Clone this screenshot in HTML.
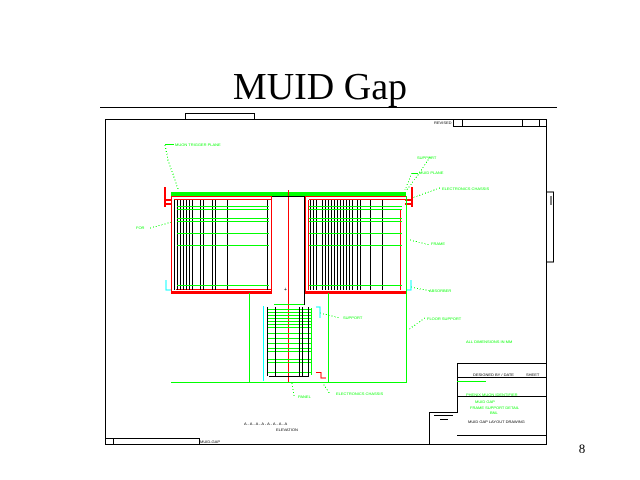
<!DOCTYPE html>
<html><head><meta charset="utf-8"><style>
html,body{margin:0;padding:0;background:#fff;width:640px;height:480px;overflow:hidden}
svg{display:block}
</style></head><body>
<svg width="640" height="480" viewBox="0 0 640 480" xmlns="http://www.w3.org/2000/svg" shape-rendering="crispEdges">
<text x="320" y="99" text-anchor="middle" font-family="Liberation Serif, serif" font-size="38">MUID Gap</text>
<line x1="100" y1="107.5" x2="557" y2="107.5" stroke="#000" stroke-width="1"/>
<text x="582" y="453" text-anchor="middle" font-family="Liberation Serif, serif" font-size="13">8</text>
<g fill="none" stroke="#000" stroke-width="1">
<rect x="105.5" y="119.5" width="441" height="325"/>
<rect x="185.5" y="113.5" width="69" height="6"/>
<polyline points="546.5,192 553.5,192 553.5,262 546.5,262"/>
<line x1="551" y1="196" x2="551" y2="205"/>
<rect x="105.5" y="438.5" width="94" height="6"/>
<line x1="113.5" y1="438" x2="113.5" y2="444"/>
<rect x="453.5" y="119.5" width="93" height="7"/>
<line x1="462.5" y1="119" x2="462.5" y2="127"/>
<line x1="522.5" y1="119" x2="522.5" y2="127"/>
<line x1="539.5" y1="119" x2="539.5" y2="127"/>
<polyline points="546,363.5 457.5,363.5 457.5,412.5 429.5,412.5 429.5,444"/>
<line x1="457" y1="377.5" x2="546" y2="377.5"/>
<line x1="457" y1="396.5" x2="546" y2="396.5"/>
<line x1="457" y1="435.5" x2="546" y2="435.5"/>
<line x1="434" y1="415.5" x2="453" y2="415.5"/>
<line x1="440" y1="419.5" x2="448" y2="419.5"/>
</g>
<g font-family="Liberation Sans, sans-serif" font-size="4" fill="#000">
<text x="434" y="124">REVISED</text>
<text x="200" y="443">MUID-GAP</text>
<text x="473" y="376">DESIGNED BY / DATE</text>
<text x="526" y="376">SHEET</text>
<text x="468" y="423">MUID GAP LAYOUT DRAWING</text>
<text x="244" y="425">A - A - A - A - A - A - A - A</text>
<text x="276" y="431">ELEVATION</text>
</g>
<g font-family="Liberation Sans, sans-serif" font-size="4" fill="#0f0">
<text x="175" y="146">MUON TRIGGER PLANE</text>
<text x="417" y="159">SUPPORT</text>
<text x="419" y="174">MUID PLANE</text>
<text x="442" y="190">ELECTRONICS CHASSIS</text>
<text x="136" y="229">FOR</text>
<text x="431" y="245">FRAME</text>
<text x="429" y="292">ABSORBER</text>
<text x="343" y="319">SUPPORT</text>
<text x="427" y="320">FLOOR SUPPORT</text>
<text x="466" y="343">ALL DIMENSIONS IN MM</text>
<text x="466" y="396">PHENIX MUON IDENTIFIER</text>
<text x="475" y="403">MUID GAP</text>
<text x="470" y="409">FRAME SUPPORT DETAIL</text>
<text x="490" y="414">BNL</text>
<text x="298" y="398">PANEL</text>
<text x="336" y="395">ELECTRONICS CHASSIS</text>
</g>
<g fill="none" stroke="#0f0" stroke-width="1" stroke-dasharray="1,2">
<polyline points="165,145 168,160 178,189"/>
<polyline points="430,157 418,175 406,191"/>
<polyline points="412,173 405,190"/>
<polyline points="440,188 412,198"/>
<polyline points="150,228 172,222"/>
<polyline points="410,240 430,245"/>
<polyline points="411,287 430,291"/>
<polyline points="320,313 340,318"/>
<polyline points="425,318 408,330"/>
<polyline points="292,383 294,396"/>
<polyline points="322,382 330,394"/>
</g>
<g stroke="#0f0" fill="none" stroke-width="1">
<line x1="165" y1="144.5" x2="174" y2="144.5"/>
<line x1="412" y1="173.5" x2="418" y2="173.5"/>
<line x1="457" y1="381.5" x2="486" y2="381.5"/>
</g>
<rect x="171" y="192" width="235" height="4" fill="#0f0"/>
<g fill="none" stroke="#f00" stroke-width="1">
<rect x="171.5" y="196.5" width="100" height="96"/>
<rect x="305.5" y="196.5" width="101" height="96"/>
<line x1="288.5" y1="190" x2="288.5" y2="383"/>
<line x1="174" y1="199.5" x2="271" y2="199.5"/>
<line x1="309" y1="199.5" x2="406" y2="199.5"/>
<line x1="308.5" y1="200" x2="308.5" y2="290"/>
<line x1="400.5" y1="210" x2="400.5" y2="290"/>
<line x1="176" y1="289.5" x2="271" y2="289.5"/>
</g>
<rect x="171" y="291" width="101" height="3" fill="#f00"/>
<rect x="305" y="291" width="102" height="3" fill="#f00"/>
<rect x="164" y="187" width="2" height="20" fill="#f00"/>
<rect x="164" y="199" width="8" height="2" fill="#f00"/>
<rect x="164" y="203" width="8" height="2" fill="#f00"/>
<rect x="411" y="187" width="2" height="20" fill="#f00"/>
<rect x="405" y="199" width="8" height="2" fill="#f00"/>
<rect x="405" y="203" width="8" height="2" fill="#f00"/>
<g stroke="#000" fill="none" stroke-width="1">
<line x1="272" y1="196.5" x2="305" y2="196.5"/>
<line x1="304.5" y1="196" x2="304.5" y2="305"/>
</g>
<g stroke="#000" stroke-width="1">
<line x1="174.5" y1="200" x2="174.5" y2="290"/>
<line x1="177.5" y1="200" x2="177.5" y2="290"/>
<line x1="180.5" y1="200" x2="180.5" y2="290"/>
<line x1="183.5" y1="200" x2="183.5" y2="290"/>
<line x1="186.5" y1="200" x2="186.5" y2="290"/>
<line x1="189.5" y1="200" x2="189.5" y2="290"/>
<line x1="192.5" y1="200" x2="192.5" y2="290"/>
<line x1="200.5" y1="200" x2="200.5" y2="290"/>
<line x1="203.5" y1="200" x2="203.5" y2="290"/>
<line x1="212.5" y1="200" x2="212.5" y2="290"/>
<line x1="215.5" y1="200" x2="215.5" y2="290"/>
<line x1="227.5" y1="200" x2="227.5" y2="290"/>
<line x1="267.5" y1="200" x2="267.5" y2="290"/>
<line x1="310.5" y1="200" x2="310.5" y2="290"/>
<line x1="313.5" y1="200" x2="313.5" y2="290"/>
<line x1="316.5" y1="200" x2="316.5" y2="290"/>
<line x1="322.5" y1="200" x2="322.5" y2="290"/>
<line x1="325.5" y1="200" x2="325.5" y2="290"/>
<line x1="328.5" y1="200" x2="328.5" y2="290"/>
<line x1="331.5" y1="200" x2="331.5" y2="290"/>
<line x1="334.5" y1="200" x2="334.5" y2="290"/>
<line x1="337.5" y1="200" x2="337.5" y2="290"/>
<line x1="340.5" y1="200" x2="340.5" y2="290"/>
<line x1="343.5" y1="200" x2="343.5" y2="290"/>
<line x1="346.5" y1="200" x2="346.5" y2="290"/>
<line x1="349.5" y1="200" x2="349.5" y2="290"/>
<line x1="352.5" y1="200" x2="352.5" y2="290"/>
<line x1="357.5" y1="200" x2="357.5" y2="290"/>
<line x1="360.5" y1="200" x2="360.5" y2="290"/>
<line x1="370.5" y1="200" x2="370.5" y2="290"/>
<line x1="382.5" y1="200" x2="382.5" y2="290"/>
</g>
<g stroke="#0f0" stroke-width="1">
<line x1="177" y1="206.5" x2="269" y2="206.5"/>
<line x1="177" y1="209.5" x2="269" y2="209.5"/>
<line x1="177" y1="218.5" x2="269" y2="218.5"/>
<line x1="177" y1="221.5" x2="269" y2="221.5"/>
<line x1="177" y1="233.5" x2="269" y2="233.5"/>
<line x1="177" y1="245.5" x2="269" y2="245.5"/>
<line x1="177" y1="285.5" x2="269" y2="285.5"/>
<line x1="309" y1="206.5" x2="402" y2="206.5"/>
<line x1="309" y1="209.5" x2="402" y2="209.5"/>
<line x1="309" y1="218.5" x2="402" y2="218.5"/>
<line x1="309" y1="221.5" x2="402" y2="221.5"/>
<line x1="309" y1="233.5" x2="402" y2="233.5"/>
<line x1="309" y1="245.5" x2="402" y2="245.5"/>
<line x1="309" y1="285.5" x2="402" y2="285.5"/>
<line x1="171" y1="382.5" x2="407" y2="382.5"/>
<line x1="406.5" y1="196" x2="406.5" y2="383"/>
<line x1="249.5" y1="293" x2="249.5" y2="383"/>
<line x1="328.5" y1="293" x2="328.5" y2="383"/>
<line x1="274" y1="304.5" x2="304" y2="304.5"/>
</g>
<g stroke="#0f0" stroke-width="1">
<line x1="267" y1="309.5" x2="311" y2="309.5"/>
<line x1="267" y1="312.5" x2="311" y2="312.5"/>
<line x1="267" y1="315.5" x2="311" y2="315.5"/>
<line x1="267" y1="318.5" x2="311" y2="318.5"/>
<line x1="267" y1="321.5" x2="311" y2="321.5"/>
<line x1="267" y1="324.5" x2="311" y2="324.5"/>
<line x1="267" y1="327.5" x2="311" y2="327.5"/>
<line x1="267" y1="333.5" x2="311" y2="333.5"/>
<line x1="267" y1="338.5" x2="311" y2="338.5"/>
<line x1="267" y1="343.5" x2="311" y2="343.5"/>
<line x1="267" y1="348.5" x2="311" y2="348.5"/>
<line x1="267" y1="351.5" x2="311" y2="351.5"/>
<line x1="267" y1="359.5" x2="311" y2="359.5"/>
<line x1="267" y1="362.5" x2="311" y2="362.5"/>
<line x1="267" y1="372.5" x2="311" y2="372.5"/>
<line x1="311.5" y1="308" x2="311.5" y2="375"/>
</g>
<g stroke="#000" stroke-width="1">
<line x1="267.5" y1="307" x2="267.5" y2="376"/>
<line x1="275.5" y1="307" x2="275.5" y2="376"/>
<line x1="299.5" y1="307" x2="299.5" y2="376"/>
<line x1="302.5" y1="307" x2="302.5" y2="376"/>
<line x1="308.5" y1="307" x2="308.5" y2="376"/>
<line x1="269" y1="376.5" x2="309" y2="376.5"/>
</g>
<g stroke="#0ff" fill="none" stroke-width="1">
<line x1="263.5" y1="306" x2="263.5" y2="381"/>
<polyline points="316,307 320,307 320,318"/>
<polyline points="166,280 166,290 171,290"/>
<polyline points="411,280 411,290 407,290"/>
</g>
<g stroke="#f00" fill="none" stroke-width="1">
<polyline points="316,372.5 321,372.5 321,378 326,378"/>
</g>
<text x="284" y="291" font-family="Liberation Sans, sans-serif" font-size="5">+</text>
</svg>
</body></html>
